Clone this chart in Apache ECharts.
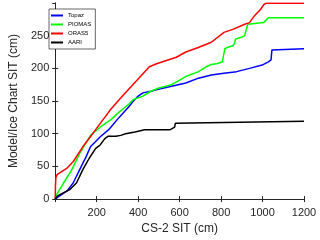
<!DOCTYPE html>
<html>
<head>
<meta charset="utf-8">
<script src="https://cdn.jsdelivr.net/npm/echarts@6/dist/echarts.min.js"></script>
<style>html,body{margin:0;padding:0;background:#fff;}#c{width:320px;height:240px;}</style>
</head>
<body>
<div id="c"></div>
<script>
var xTicks = [0, 200, 400, 600, 800, 1000, 1200];
var yTicks = [0, 50, 100, 150, 200, 250];

var topazX = [0, 11, 57, 87, 118, 149, 170, 216, 262, 308, 331, 354, 377, 400, 423, 461, 492, 561, 630, 691, 753, 814, 875, 937, 998, 1028, 1041, 1045, 1050, 1200];
var topazY = [0, 2.5, 12.5, 25, 45, 65, 80, 95, 107.5, 125, 133, 141, 150, 157.5, 162.5, 165, 167.5, 172.5, 177.5, 185, 190, 192.5, 195, 200, 205, 210, 213, 228, 230, 230];

var piomasX = [0, 3, 41, 80, 118, 170, 216, 270, 308, 331, 354, 377, 423, 461, 500, 561, 630, 691, 730, 753, 783, 806, 812, 818, 829, 860, 866, 870, 898, 914, 922, 929, 937, 1005, 1013, 1028, 1200];
var piomasY = [0, 5, 25, 45, 70, 97.5, 110, 122, 133, 139, 145, 152.5, 157.5, 165, 170, 175, 187.5, 195, 202.5, 206, 207.5, 210, 220, 230, 232, 235, 240, 245, 247.5, 250, 260, 267.5, 270, 270, 272.5, 277.5, 277.5];

var oras5X = [0, 1, 3, 10, 18, 57, 87, 133, 185, 262, 308, 331, 454, 492, 584, 630, 690, 753, 814, 860, 914, 937, 960, 975, 990, 1005, 1015, 1200];
var oras5Y = [0, 20, 33, 38, 41, 47.5, 57.5, 80, 102, 135, 152, 160, 202.5, 207.5, 217, 225, 232, 240, 255, 260, 267.5, 270, 280, 285, 290, 297, 299.5, 299.5];

var aariX = [0, 11, 41, 72, 103, 133, 164, 195, 216, 239, 254, 293, 316, 339, 385, 431, 553, 561, 576, 579, 583, 1200];
var aariY = [0, 5, 10, 15, 25, 45, 62.5, 77.5, 82.5, 92.5, 96, 96, 97.5, 100, 102.5, 106, 106, 107.5, 110, 116, 119, 119];

function pairs(xs, ys) { return xs.map(function (x, i) { return [x, ys[i]]; }); }

var FONT = 'Liberation Sans';
var chart = echarts.init(document.getElementById('c'), null, {renderer: 'canvas'});

function mkSeries(name, xs, ys, color) {
  return {
    name: name, type: 'line', data: pairs(xs, ys), showSymbol: false, symbol: 'none',
    lineStyle: {color: color, width: 1.5}, itemStyle: {color: color}, animation: false
  };
}

var axisLineStyle = {show: true, lineStyle: {color: '#262626', width: 1}};
chart.setOption({
  animation: false,
  backgroundColor: '#fff',
  grid: {left: 43, right: 16, top: 3, bottom: 37},
  legend: {
    orient: 'vertical', left: 49, top: 9,
    itemWidth: 12, itemHeight: 2, itemGap: 2,
    padding: [3, 4, 3, 2],
    borderColor: '#000', borderWidth: 0.6, backgroundColor: '#fff',
    icon: 'rect',
    textStyle: {fontSize: 6, fontFamily: FONT, color: '#000', lineHeight: 7},
    data: ['Topaz', 'PIOMAS', 'ORAS5', 'AARI']
  },
  xAxis: [{
    type: 'value', min: xTicks[0], max: xTicks[xTicks.length - 1], interval: xTicks[1] - xTicks[0],
    axisLine: axisLineStyle,
    axisTick: {show: true, inside: true, length: 3, lineStyle: {color: '#262626'}},
    axisLabel: {showMinLabel: false, fontSize: 11, fontFamily: FONT, color: '#262626', margin: 8,
      formatter: function (v) { return String(v); }},
    splitLine: {show: false},
    name: 'CS-2 SIT (cm)', nameLocation: 'middle', nameGap: 20,
    nameTextStyle: {fontSize: 12, fontFamily: FONT, color: '#262626'}
  }, {
    type: 'value', position: 'top', min: xTicks[0], max: xTicks[xTicks.length - 1], interval: xTicks[1] - xTicks[0],
    axisLine: axisLineStyle,
    axisTick: {show: true, inside: true, length: 3, lineStyle: {color: '#262626'}},
    axisLabel: {show: false}, splitLine: {show: false}
  }],
  yAxis: [{
    type: 'value', min: 0, max: 300, interval: yTicks[1] - yTicks[0],
    axisLine: axisLineStyle,
    axisTick: {show: true, inside: true, length: 3, lineStyle: {color: '#262626'}},
    axisLabel: {showMaxLabel: false, fontSize: 11, fontFamily: FONT, color: '#262626', margin: 6,
      formatter: function (v) { return String(v); }},
    splitLine: {show: false},
    name: 'Model/Ice Chart SIT (cm)', nameLocation: 'middle', nameGap: 28,
    nameTextStyle: {fontSize: 12, fontFamily: FONT, color: '#262626'}
  }, {
    type: 'value', position: 'right', min: 0, max: 300, interval: yTicks[1] - yTicks[0],
    axisLine: axisLineStyle,
    axisTick: {show: true, inside: true, length: 3, lineStyle: {color: '#262626'}},
    axisLabel: {show: false}, splitLine: {show: false}
  }],
  series: [
    mkSeries('Topaz', topazX, topazY, '#0000ff'),
    mkSeries('PIOMAS', piomasX, piomasY, '#00ff00'),
    mkSeries('ORAS5', oras5X, oras5Y, '#ff0000'),
    mkSeries('AARI', aariX, aariY, '#000000')
  ]
});
</script>
</body>
</html>
